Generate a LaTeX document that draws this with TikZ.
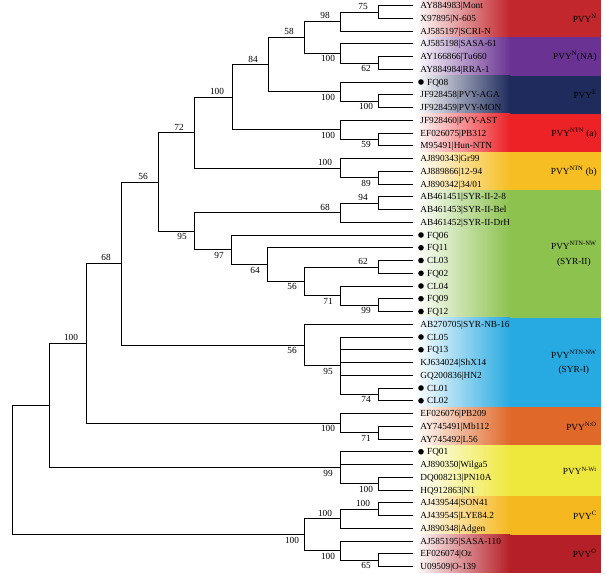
\documentclass[tikz,border=0pt]{standalone}
\usepackage{fontspec}
\setmainfont{Liberation Serif}
\usepackage{tikz}
\usetikzlibrary{positioning}

\definecolor{cN}{RGB}{193,39,45}
\definecolor{cNA}{RGB}{106,51,147}
\definecolor{cE}{RGB}{30,43,92}
\definecolor{cNTNa}{RGB}{236,34,39}
\definecolor{cNTNb}{RGB}{246,190,34}
\definecolor{cSYRII}{RGB}{141,194,79}
\definecolor{cSYRI}{RGB}{39,170,225}
\definecolor{cNO}{RGB}{224,105,42}
\definecolor{cNWi}{RGB}{239,232,60}
\definecolor{cC}{RGB}{245,184,30}
\definecolor{cO}{RGB}{181,31,39}

\begin{document}
\begin{tikzpicture}[x=1pt, y=-1pt, line width=0.8pt,
        every node/.style={font=\fontsize{9.3}{11}\selectfont, inner sep=0pt},
        strain/.style={anchor=west, text height=6.4pt, text depth=0pt},
        iso/.style={circle, fill=black, minimum size=5.6pt},
        bsup/.style={anchor=south, xshift=-15pt, yshift=2pt},
        bsdn/.style={anchor=north, xshift=-12pt, yshift=-2pt},
        grp/.style={anchor=east, align=center, font=\fontsize{9.3}{14.5}\selectfont}]
    \useasboundingbox (0,0) rectangle (605,574);

    % coloured bands behind the groups
    \foreach \a/\b/\col in {1/3/cN, 4/6/cNA, 7/9/cE, 10/12/cNTNa, 13/15/cNTNb,
                            16/25/cSYRII, 26/32/cSYRI, 33/35/cNO, 36/39/cNWi,
                            40/42/cC, 43/45/cO} {
        \pgfmathsetmacro\ya{5.5+12.75*(\a-1.5)}
        \pgfmathsetmacro\yb{5.5+12.75*(\b-0.5)}
        \shade[left color=white, right color=\col] (415,\ya) rectangle (510,\yb);
        \fill[\col] (509.5,\ya) rectangle (601,\yb);
    }

    % leaf ends
    \foreach \i in {1,...,45} {
        \coordinate (L\i) at (413, {5.5+12.75*(\i-1)});
    }

    % internal nodes
    \coordinate (a12)   at (378, 11.9);
    \coordinate (a13)   at (340, 21.4);
    \coordinate (a56)   at (378, 62.9);
    \coordinate (a46)   at (340, 53.3);
    \coordinate (a16)   at (304, 37.4);
    \coordinate (a89)   at (378, 101.1);
    \coordinate (a79)   at (340, 91.6);
    \coordinate (a19)   at (268, 64.5);
    \coordinate (a1112) at (378, 139.4);
    \coordinate (a1012) at (340, 129.8);
    \coordinate (a112)  at (232, 97.1);
    \coordinate (a1415) at (378, 177.6);
    \coordinate (a1315) at (340, 168.1);
    \coordinate (a115)  at (194, 132.6);
    \coordinate (a1617) at (378, 203.1);
    \coordinate (a1618) at (340, 212.7);
    \coordinate (a2122) at (378, 266.9);
    \coordinate (a2425) at (378, 305.1);
    \coordinate (a2325) at (340, 295.6);
    \coordinate (a2125) at (304, 281.2);
    \coordinate (a2025) at (267, 264.5);
    \coordinate (a1925) at (231, 249.7);
    \coordinate (a1625) at (194, 231.2);
    \coordinate (a125)  at (158, 181.9);
    \coordinate (a3132) at (378, 394.4);
    \coordinate (a2732) at (340, 365.7);
    \coordinate (a2632) at (304, 345.0);
    \coordinate (a132)  at (121, 263.4);
    \coordinate (a3435) at (378, 432.6);
    \coordinate (a3335) at (340, 423.1);
    \coordinate (a135)  at (86, 343.2);
    \coordinate (a3839) at (378, 483.6);
    \coordinate (a3639) at (340, 467.7);
    \coordinate (a139)  at (49, 405.4);
    \coordinate (a4041) at (378, 509.1);
    \coordinate (a4042) at (340, 518.7);
    \coordinate (a4445) at (378, 560.1);
    \coordinate (a4345) at (340, 550.6);
    \coordinate (a4045) at (304, 534.6);
    \coordinate (root)  at (12, 470.0);

    % branches
    \foreach \p/\c in {a12/L1, a12/L2, a13/a12, a13/L3, a56/L5, a56/L6,
                       a46/L4, a46/a56, a16/a13, a16/a46, a89/L8, a89/L9,
                       a79/L7, a79/a89, a19/a16, a19/a79, a1112/L11, a1112/L12,
                       a1012/L10, a1012/a1112, a112/a19, a112/a1012,
                       a1415/L14, a1415/L15, a1315/L13, a1315/a1415,
                       a115/a112, a115/a1315,
                       a1617/L16, a1617/L17, a1618/a1617, a1618/L18,
                       a2122/L21, a2122/L22, a2425/L24, a2425/L25,
                       a2325/L23, a2325/a2425, a2125/a2122, a2125/a2325,
                       a2025/L20, a2025/a2125, a1925/L19, a1925/a2025,
                       a1625/a1618, a1625/a1925, a125/a115, a125/a1625,
                       a3132/L31, a3132/L32, a2732/L27, a2732/L28, a2732/L29,
                       a2732/L30, a2732/a3132, a2632/L26, a2632/a2732,
                       a132/a125, a132/a2632,
                       a3435/L34, a3435/L35, a3335/L33, a3335/a3435,
                       a135/a132, a135/a3335,
                       a3839/L38, a3839/L39, a3639/L36, a3639/L37, a3639/a3839,
                       a139/a135, a139/a3639,
                       a4041/L40, a4041/L41, a4042/a4041, a4042/L42,
                       a4445/L44, a4445/L45, a4345/L43, a4345/a4445,
                       a4045/a4042, a4045/a4345, root/a139, root/a4045} {
        \draw (\p) |- (\c);
    }

    % bootstrap values
    \foreach \n/\v in {a12/75, a13/98, a16/58, a19/84, a112/100, a115/72,
                       a1315/100, a125/56, a1618/68, a1617/94, a2122/62,
                       a132/68, a135/100, a4042/100, a4041/100} {
        \node[bsup] at (\n) {\v};
    }
    \foreach \n/\v in {a46/100, a56/62, a79/100, a89/100, a1012/100, a1112/59,
                       a1415/89, a1625/95, a1925/97, a2025/64, a2125/56,
                       a2325/71, a2425/99, a2632/56, a2732/95, a3132/74,
                       a3335/100, a3435/71, a3639/99, a3839/100, a4045/100,
                       a4345/100, a4445/65} {
        \node[bsdn] at (\n) {\v};
    }

    % reference strains
    \foreach \i/\name in {1/AY884983|Mont, 2/X97895|N-605, 3/AJ585197|SCRI-N,
                          4/AJ585198|SASA-61, 5/AY166866|Tu660, 6/AY884984|RRA-1,
                          8/JF928458|PVY-AGA, 9/JF928459|PVY-MON,
                          10/JF928460|PVY-AST, 11/EF026075|PB312,
                          12/M95491|Hun-NTN, 13/AJ890343|Gr99,
                          14/AJ889866|12-94, 15/{AJ890342|34/01},
                          16/AB461451|SYR-II-2-8, 17/AB461453|SYR-II-Bel,
                          18/AB461452|SYR-II-DrH, 26/AB270705|SYR-NB-16,
                          29/KJ634024|ShX14, 30/GQ200836|HN2,
                          33/EF026076|PB209, 34/AY745491|Mb112,
                          35/AY745492|L56, 37/AJ890350|Wilga5,
                          38/DQ008213|PN10A, 39/HQ912863|N1,
                          40/AJ439544|SON41, 41/AJ439545|LYE84.2,
                          42/AJ890348|Adgen, 43/AJ585195|SASA-110,
                          44/EF026074|Oz, 45/U09509|O-139} {
        \node[strain] (T\i) at ([xshift=7pt]L\i) {\name};
    }

    % isolates of this study
    \foreach \i/\name in {7/FQ08, 19/FQ06, 20/FQ11, 21/CL03, 22/FQ02, 23/CL04,
                          24/FQ09, 25/FQ12, 27/CL05, 28/FQ13, 31/CL01,
                          32/CL02, 36/FQ01} {
        \node[iso] (D\i) at ([xshift=8pt]L\i) {};
        \node[strain, right=2.5pt of D\i] (T\i) {\name};
    }

    % group names
    \node[grp] (gN)    at (597, 18.3)  {PVY\textsuperscript{N}};
    \node[grp] (gNA)   at (597, 56.5)  {PVY\textsuperscript{N}(NA)};
    \node[grp] (gE)    at (597, 94.8)  {PVY\textsuperscript{E}};
    \node[grp] (gNTNa) at (597, 133.0) {PVY\textsuperscript{NTN} (a)};
    \node[grp] (gNTNb) at (597, 171.3) {PVY\textsuperscript{NTN} (b)};
    \node[grp] (gSII)  at (597, 254.0) {PVY\textsuperscript{NTN-NW}\\(SYR-II)};
    \node[grp] (gSI)   at (597, 362.5) {PVY\textsuperscript{NTN-NW}\\(SYR-I)};
    \node[grp] (gNO)   at (597, 426.3) {PVY\textsuperscript{N:O}};
    \node[grp] (gNWi)  at (597, 470.9) {PVY\textsuperscript{N-Wi}};
    \node[grp] (gC)    at (597, 515.5) {PVY\textsuperscript{C}};
    \node[grp] (gO)    at (597, 553.8) {PVY\textsuperscript{O}};
\end{tikzpicture}
\end{document}
